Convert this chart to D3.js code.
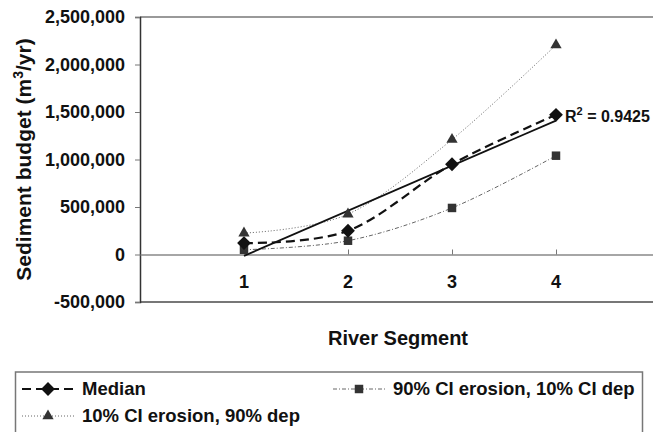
<!DOCTYPE html>
<meta charset="utf-8">
<script src="https://d3js.org/d3.v7.min.js"></script>
<style>
  body { margin: 0; background: #fff; }
  text { font-family: "Liberation Sans", Arial, sans-serif; font-weight: bold; fill: #111; }
</style>
<div id="chart"></div>
<script>

// data
var segments = [1, 2, 3, 4];
var median   = [120000, 250000, 950000, 1470000];
var ciErosion90 = [50000, 145000, 490000, 1040000];   // 90% CI erosion, 10% CI dep
var ciErosion10 = [225000, 425000, 1210000, 2205000]; // 10% CI erosion, 90% dep
var yTicks = [-500000, 0, 500000, 1000000, 1500000, 2000000, 2500000];
var rSquared = "0.9425";

var W = 653, H = 432;
var margin = {top: 17, left: 140};
var plotBottom = 302, plotRight = 660;

var svg = d3.select("#chart").append("svg")
    .attr("width", W).attr("height", H);

var x = d3.scaleLinear().domain([0, 5]).range([margin.left, plotRight]);
var y = d3.scaleLinear().domain([-500000, 2500000]).range([plotBottom, margin.top]);

// excel style numbers, plain hyphen for minus
var fmt = d3.formatLocale({decimal: ".", thousands: ",", grouping: [3], currency: ["", ""], minus: "-"}).format(",");

// frame
svg.append("line")
    .attr("x1", margin.left).attr("x2", plotRight)
    .attr("y1", margin.top).attr("y2", margin.top)
    .attr("stroke", "#777").attr("stroke-width", 1.5);
svg.append("line")
    .attr("x1", margin.left).attr("x2", plotRight)
    .attr("y1", plotBottom).attr("y2", plotBottom)
    .attr("stroke", "#777").attr("stroke-width", 2);

// y axis
var yAxis = svg.append("g")
    .attr("transform", "translate(" + margin.left + ",0)")
    .call(d3.axisLeft(y).tickValues(yTicks).tickSize(5).tickPadding(10).tickFormat(fmt));
yAxis.select(".domain").attr("stroke", "#333").attr("stroke-width", 1.5);
yAxis.selectAll(".tick line").attr("stroke", "#777");
yAxis.selectAll("text").attr("font-size", 18).style("font-family", null);

// zero line with category ticks
var xAxis = svg.append("g")
    .attr("transform", "translate(0," + y(0) + ")")
    .call(d3.axisTop(x).tickValues(segments).tickSize(5).tickSizeOuter(0).tickFormat(""));
xAxis.select(".domain").attr("stroke", "#888").attr("stroke-width", 1.5);
xAxis.selectAll(".tick line").attr("stroke", "#777");

svg.append("g").selectAll("text")
  .data(segments).enter().append("text")
    .attr("x", function(d) { return x(d); })
    .attr("y", y(0) + 33)
    .attr("text-anchor", "middle")
    .attr("font-size", 18)
    .text(function(d) { return d; });

// titles
svg.append("text")
    .attr("transform", "translate(31," + ((margin.top + plotBottom) / 2) + ") rotate(-90)")
    .attr("text-anchor", "middle")
    .attr("font-size", 21)
    .html('Sediment budget (m<tspan dy="-8" font-size="14">3</tspan><tspan dy="8">/yr)</tspan>');

svg.append("text")
    .attr("x", 398).attr("y", 345)
    .attr("text-anchor", "middle")
    .attr("font-size", 20)
    .text("River Segment");

// series
var smooth = d3.line()
    .x(function(d, i) { return x(segments[i]); })
    .y(function(d) { return y(d); })
    .curve(d3.curveCatmullRom.alpha(0));

var series = [
  {name: "10% CI erosion, 90% dep", values: ciErosion10, stroke: "#666", width: 1, dash: "1,2", marker: d3.symbolTriangle, size: 55, rot: 0, fill: "#333"},
  {name: "90% CI erosion, 10% CI dep", values: ciErosion90, stroke: "#666", width: 1, dash: "4,2,1,2", marker: d3.symbolSquare, size: 72, rot: 0, fill: "#333"},
  {name: "Median", values: median, stroke: "#111", width: 2.2, dash: "9,5", marker: d3.symbolSquare, size: 95, rot: 45, fill: "#111"}
];

series.forEach(function(s) {
  svg.append("path")
      .datum(s.values)
      .attr("fill", "none")
      .attr("stroke", s.stroke)
      .attr("stroke-width", s.width)
      .attr("stroke-dasharray", s.dash)
      .attr("d", smooth);
});

// linear trendline of median
var n = segments.length;
var mx = d3.mean(segments), my = d3.mean(median);
var slope = d3.sum(segments, function(d, i) { return (d - mx) * (median[i] - my); }) /
            d3.sum(segments, function(d) { return (d - mx) * (d - mx); });
var intercept = my - slope * mx;
svg.append("line")
    .attr("x1", x(segments[0])).attr("y1", y(intercept + slope * segments[0]))
    .attr("x2", x(segments[n - 1])).attr("y2", y(intercept + slope * segments[n - 1]))
    .attr("stroke", "#111").attr("stroke-width", 1.8);

series.forEach(function(s) {
  svg.append("g").selectAll("path")
    .data(s.values).enter().append("path")
      .attr("transform", function(d, i) {
        return "translate(" + x(segments[i]) + "," + y(d) + ") rotate(" + s.rot + ")";
      })
      .attr("d", d3.symbol().type(s.marker).size(s.size))
      .attr("fill", s.fill);
});

svg.append("text")
    .attr("x", x(4) + 9).attr("y", y(median[3]) + 7)
    .attr("font-size", 16)
    .html('R<tspan dy="-7" font-size="11">2</tspan><tspan dy="7"> = ' + rSquared + '</tspan>');

// legend
var legend = svg.append("g");
legend.append("rect")
    .attr("x", 15.5).attr("y", 372).attr("width", 627).attr("height", 80)
    .attr("fill", "none").attr("stroke", "#777").attr("stroke-width", 1.5);

var legendPos = [
  {s: series[2], lx: 22, ly: 389},
  {s: series[1], lx: 333, ly: 389},
  {s: series[0], lx: 22, ly: 416}
];
legendPos.forEach(function(p) {
  legend.append("line")
      .attr("x1", p.lx).attr("x2", p.lx + 52)
      .attr("y1", p.ly).attr("y2", p.ly)
      .attr("stroke", p.s.stroke).attr("stroke-width", p.s.width)
      .attr("stroke-dasharray", p.s.dash);
  legend.append("path")
      .attr("transform", "translate(" + (p.lx + 26) + "," + p.ly + ") rotate(" + p.s.rot + ")")
      .attr("d", d3.symbol().type(p.s.marker).size(p.s.size))
      .attr("fill", p.s.fill);
  legend.append("text")
      .attr("x", p.lx + 60).attr("y", p.ly + 6)
      .attr("font-size", 18.5)
      .text(p.s.name);
});

</script>
